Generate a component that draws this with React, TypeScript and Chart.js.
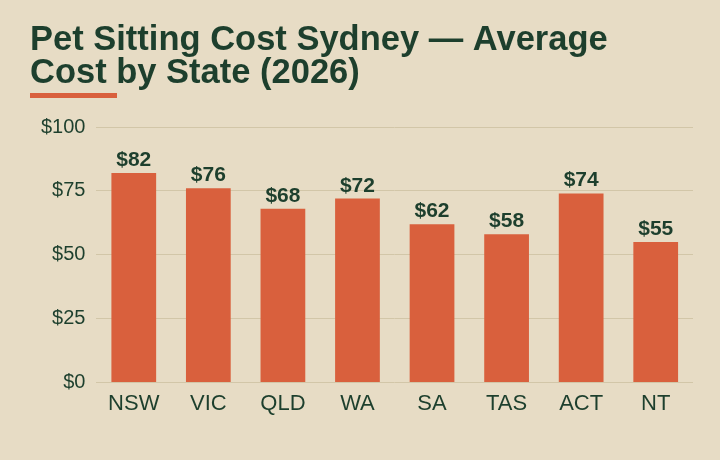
import React, { useEffect, useRef } from "react";
import { Chart, registerables } from "chart.js";

Chart.register(...registerables);

const categories = ["NSW", "VIC", "QLD", "WA", "SA", "TAS", "ACT", "NT"];
const costs = [82, 76, 68, 72, 62, 58, 74, 55];
const titleLines = ["Pet Sitting Cost Sydney \u2014 Average", "Cost by State (2026)"];

const BG = "#e7dcc5";
const BAR = "#d9603d";
const GREEN = "#1d3f2d";
const GRID = "#d2c6a8";
const FONT = '"Liberation Sans", Arial, sans-serif';

export default function App() {
  const ref = useRef<HTMLCanvasElement | null>(null);

  useEffect(() => {
    document.body.style.margin = "0";
    const canvas = ref.current;
    if (!canvas) return;

    const decor = {
      id: "decor",
      beforeDraw(chart: any) {
        const ctx = chart.ctx;
        ctx.save();
        ctx.fillStyle = BG;
        ctx.fillRect(0, 0, chart.width, chart.height);
        ctx.fillStyle = GREEN;
        ctx.font = `bold 34.5px ${FONT}`;
        ctx.textBaseline = "alphabetic";
        ctx.textAlign = "left";
        titleLines.forEach((t, i) => ctx.fillText(t, 30, 50 + i * 33));
        ctx.fillStyle = BAR;
        ctx.fillRect(30, 93, 87, 5);
        ctx.restore();
      },
      afterDatasetsDraw(chart: any) {
        const ctx = chart.ctx;
        const meta = chart.getDatasetMeta(0);
        ctx.save();
        ctx.fillStyle = GREEN;
        ctx.font = `bold 21px ${FONT}`;
        ctx.textAlign = "center";
        ctx.textBaseline = "alphabetic";
        meta.data.forEach((bar: any, i: number) => {
          ctx.fillText("$" + costs[i], bar.x, bar.y - 7);
        });
        ctx.restore();
      },
    };

    const chart = new Chart(canvas, {
      type: "bar",
      data: {
        labels: categories,
        datasets: [
          {
            data: costs,
            backgroundColor: BAR,
            borderWidth: 0,
            barPercentage: 0.6,
            categoryPercentage: 1,
          },
        ],
      },
      options: {
        responsive: false,
        animation: false,
        devicePixelRatio: 1,
        layout: { padding: { left: 30, right: 27, top: 127, bottom: 35 } },
        plugins: {
          legend: { display: false },
          title: { display: false },
          tooltip: { enabled: false },
        },
        scales: {
          x: {
            grid: { display: false, drawTicks: false },
            border: { display: false },
            ticks: { color: GREEN, font: { family: FONT, size: 22 }, padding: 8 },
          },
          y: {
            min: 0,
            max: 100,
            grid: { color: GRID, lineWidth: 1, drawTicks: false },
            border: { display: false },
            ticks: {
              stepSize: 25,
              color: GREEN,
              padding: 11,
              font: { family: FONT, size: 20 },
              callback: (v: any) => "$" + v,
            },
          },
        },
      },
      plugins: [decor],
    });

    return () => chart.destroy();
  }, []);

  return (
    <div style={{ width: 720, height: 460, background: BG, position: "absolute", left: 0, top: 0 }}>
      <canvas ref={ref} width={720} height={460} style={{ display: "block" }} />
    </div>
  );
}
